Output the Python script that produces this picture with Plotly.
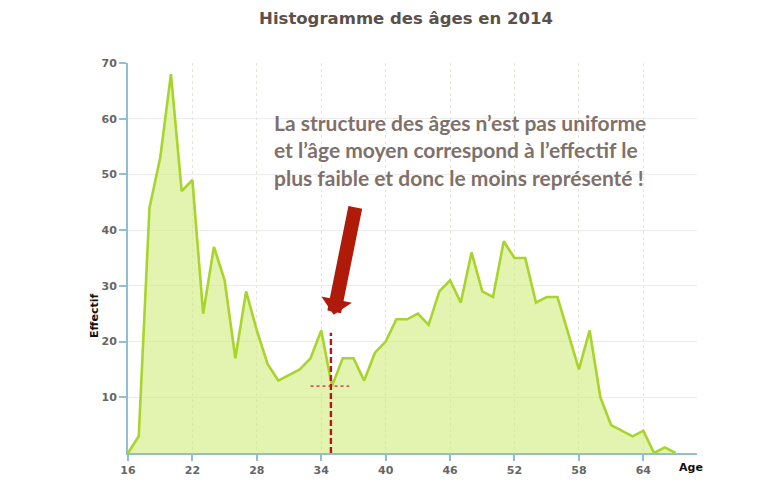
import plotly.graph_objects as go

# ---- data ----
ages = list(range(16, 68))
effectifs = [0, 3, 44, 53, 68, 47, 49, 25, 37, 31, 17, 29, 22, 16, 13, 14, 15, 17, 22, 12,
             17, 17, 13, 18, 20, 24, 24, 25, 23, 29, 31, 27, 36, 29, 28, 38, 35, 35, 27, 28,
             28, 21.5, 15, 22, 10, 5, 4, 3, 4, 0, 1, 0]
x_ticks = [16, 22, 28, 34, 40, 46, 52, 58, 64]
y_ticks = [10, 20, 30, 40, 50, 60, 70]
mean_age = 34.9
mean_top = 21.6
cross_y = 12
cross_x = [33.0, 36.6]

title_text = "Histogramme des âges en 2014"
note_text = ("La structure des âges n’est pas uniforme<br>"
             "et l’âge moyen correspond à l’effectif le<br>"
             "plus faible et donc le moins représenté !")

axis_blue = "#8fbfd3"

fig = go.Figure()
fig.add_trace(go.Scatter(
    x=ages, y=effectifs, mode="lines",
    line=dict(color="#a8d42c", width=2.6),
    fill="tozeroy", fillcolor="rgba(208,237,123,0.6)",
    hoverinfo="skip", showlegend=False))

# mean crosshair
fig.add_trace(go.Scatter(
    x=cross_x, y=[cross_y, cross_y], mode="lines",
    line=dict(color="#d05a6a", width=1.6, dash="dot"),
    hoverinfo="skip", showlegend=False))
fig.add_trace(go.Scatter(
    x=[mean_age, mean_age], y=[0, mean_top], mode="lines",
    line=dict(color="#b4161a", width=2.4, dash="6px,3px"),
    hoverinfo="skip", showlegend=False))

fig.update_layout(
    width=776, height=489,
    margin=dict(l=120, r=87, t=55, b=44),
    paper_bgcolor="white", plot_bgcolor="white",
    title=dict(text=title_text, xref="container", x=398 / 776, xanchor="center",
               yref="container", y=1 - 10 / 489, yanchor="middle",
               font=dict(family="DejaVu Sans", size=16.5, color="#5b514b", weight="bold")),
    xaxis=dict(range=[16, 69], tickvals=x_ticks, ticktext=[str(v) for v in x_ticks],
               showline=True, linecolor=axis_blue, linewidth=2,
               ticks="outside", ticklen=6, tickcolor=axis_blue, tickwidth=1.5,
               showgrid=True, gridcolor="#e4e6d8", griddash="dot", gridwidth=1,
               zeroline=False,
               tickfont=dict(family="DejaVu Sans", size=11, color="#666666", weight="bold")),
    yaxis=dict(range=[0, 70], tickvals=y_ticks,
               showline=True, linecolor=axis_blue, linewidth=2,
               ticks="outside", ticklen=7, tickcolor=axis_blue, tickwidth=1.5,
               showgrid=True, gridcolor="#ececec", gridwidth=1.2,
               zeroline=False,
               tickfont=dict(family="DejaVu Sans", size=11, color="#666666", weight="bold")),
)

fig.add_annotation(
    text=note_text, x=29.4, y=62.0, xref="x", yref="y",
    xanchor="left", yanchor="top", align="left", showarrow=False,
    font=dict(family="Lato", size=21, color="#7f716a", weight="bold"))

fig.add_annotation(
    text="", x=35.15, y=24.8, xref="x", yref="y",
    showarrow=True, ax=22, ay=-109, axref="pixel", ayref="pixel",
    arrowhead=1, arrowsize=0.37, arrowwidth=14, arrowcolor="#b01a08", standoff=0)

fig.add_annotation(
    text="Effectif", x=-0.058, y=24.6, xref="paper", yref="y",
    textangle=-90, showarrow=False, xanchor="center", yanchor="middle",
    font=dict(family="DejaVu Sans", size=11, color="#111111", weight="bold"))

fig.add_annotation(
    text="Age", x=68.4, y=0, xref="x", yref="paper",
    yshift=-14, showarrow=False, xanchor="center", yanchor="middle",
    font=dict(family="DejaVu Sans", size=11, color="#111111", weight="bold"))

fig.write_html("out.html")
